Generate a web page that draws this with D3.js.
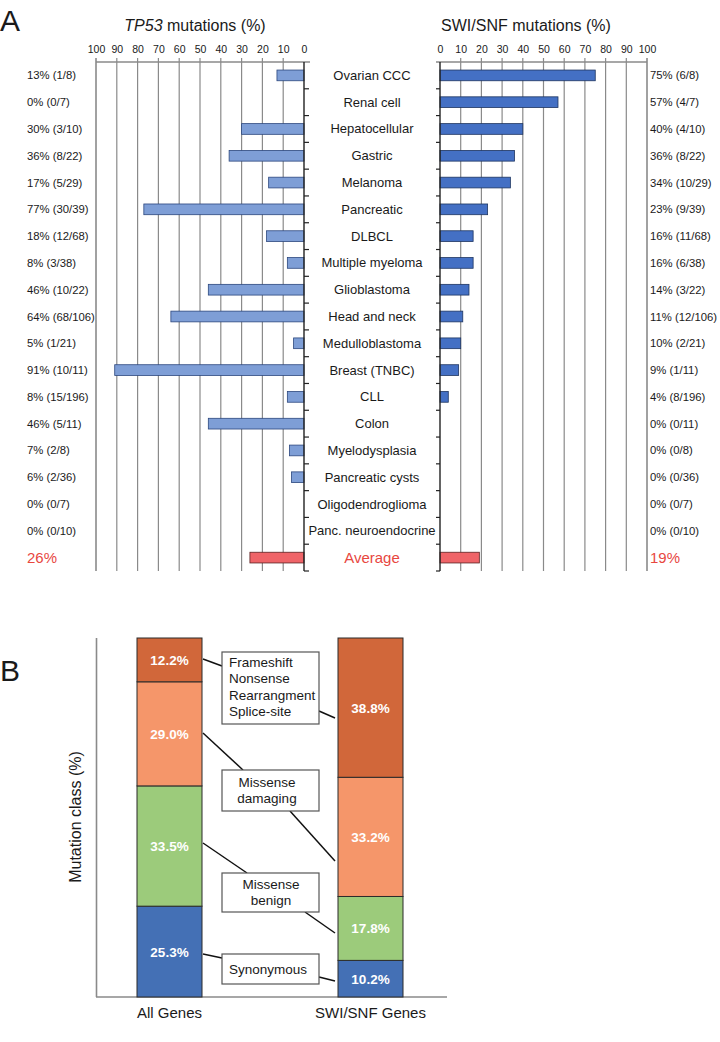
<!DOCTYPE html>
<html>
<head>
<meta charset="utf-8">
<script src="https://cdn.jsdelivr.net/npm/d3@7"></script>
<style>
  html, body { margin: 0; padding: 0; background: #fff; }
  svg { display: block; font-family: "Liberation Sans", Arial, sans-serif; }
</style>
</head>
<body>
<svg id="chart" width="720" height="1042"></svg>
<script>
// ---------- Panel A data ----------
const categories = ["Ovarian CCC","Renal cell","Hepatocellular","Gastric","Melanoma","Pancreatic","DLBCL","Multiple myeloma","Glioblastoma","Head and neck","Medulloblastoma","Breast (TNBC)","CLL","Colon","Myelodysplasia","Pancreatic cysts","Oligodendroglioma","Panc. neuroendocrine"];
const tp53Pct  = [13, 0, 30, 36, 17, 77, 18, 8, 46, 64, 5, 91, 8, 46, 7, 6, 0, 0];
const tp53Frac = ["1/8","0/7","3/10","8/22","5/29","30/39","12/68","3/38","10/22","68/106","1/21","10/11","15/196","5/11","2/8","2/36","0/7","0/10"];
const swiPct   = [75, 57, 40, 36, 34, 23, 16, 16, 14, 11, 10, 9, 4, 0, 0, 0, 0, 0];
const swiFrac  = ["6/8","4/7","4/10","8/22","10/29","9/39","11/68","6/38","3/22","12/106","2/21","1/11","8/196","0/11","0/8","0/36","0/7","0/10"];
const averageLabel = "Average";
const avgTp53 = 26;
const avgSwi = 19;
const axisTicks = [0,10,20,30,40,50,60,70,80,90,100];

// ---------- Panel B data ----------
const geneSets = ["All Genes","SWI/SNF Genes"];
const mutClasses = ["Synonymous","Missense benign","Missense damaging","Frameshift"];
const allGenesVals = [25.3, 33.5, 29.0, 12.2];
const swiGenesVals = [10.2, 17.8, 33.2, 38.8];
const classBoxText = [["Synonymous"],["Missense","benign"],["Missense","damaging"],["Frameshift","Nonsense","Rearrangment","Splice-site"]];

// ---------- styles ----------
const C = {
  text: "#1a1a1a", grid: "#8a8a8a", red: "#e8473f",
  leftFill: "#7e9ed6", leftStroke: "#2c477e",
  rightFill: "#4470c4", rightStroke: "#1e3560",
  avgFill: "#ef6468", avgStroke: "#5b2222",
  classFill: ["#4470b5", "#9ccb7b", "#f5966a", "#d1673a"]
};

const svg = d3.select("#chart");

// ======================= PANEL A =======================
const rows = [...categories, averageLabel];
const y = d3.scaleBand().domain(rows).range([62, 571]);
const xL = d3.scaleLinear().domain([0, 100]).range([304, 96]);
const xR = d3.scaleLinear().domain([0, 100]).range([440, 647]);
const barH = y.bandwidth() * 0.4;
const gA = svg.append("g");

svg.append("text").attr("x", 0).attr("y", 31).attr("font-size", 30).attr("fill", C.text).text("A");

// titles
const t1 = gA.append("text").attr("x", 195).attr("y", 31).attr("text-anchor", "middle")
  .attr("font-size", 16).attr("fill", C.text);
t1.append("tspan").attr("font-style", "italic").text("TP53");
t1.append("tspan").text(" mutations (%)");
gA.append("text").attr("x", 526).attr("y", 31).attr("text-anchor", "middle")
  .attr("font-size", 16).attr("fill", C.text).text("SWI/SNF mutations (%)");

function drawSide(x, side) {
  // grid lines
  gA.append("g").selectAll("line").data(axisTicks.filter(d => d > 0)).join("line")
    .attr("x1", d => x(d)).attr("x2", d => x(d))
    .attr("y1", 58).attr("y2", 571)
    .attr("stroke", C.grid).attr("stroke-width", d => d === 100 ? 1.6 : 1.2);
  // top axis line
  const x0 = x(0), x100 = x(100);
  const ext = side === "left" ? 6 : -4;
  gA.append("line").attr("x1", x100).attr("x2", x0 + ext).attr("y1", 62).attr("y2", 62)
    .attr("stroke", C.grid).attr("stroke-width", 1.6);
  // tick labels via axis
  const ax = d3.axisTop(x).tickValues(axisTicks).tickSize(0).tickPadding(9);
  const ga = gA.append("g").attr("transform", "translate(0,62)").call(ax);
  ga.select(".domain").remove();
  ga.selectAll("text").attr("font-size", 10.5).attr("fill", C.text)
    .attr("font-family", "'Liberation Sans', Arial, sans-serif");
}
drawSide(xL, "left");
drawSide(xR, "right");

// bars
gA.append("g").selectAll("rect").data(categories).join("rect")
  .attr("x", (d, i) => xL(tp53Pct[i])).attr("width", (d, i) => xL(0) - xL(tp53Pct[i]))
  .attr("y", d => y(d) + (y.bandwidth() - barH) / 2).attr("height", barH)
  .attr("fill", C.leftFill).attr("stroke", C.leftStroke).attr("stroke-width", 0.8)
  .attr("display", (d, i) => tp53Pct[i] > 0 ? null : "none");
gA.append("g").selectAll("rect").data(categories).join("rect")
  .attr("x", xR(0)).attr("width", (d, i) => xR(swiPct[i]) - xR(0))
  .attr("y", d => y(d) + (y.bandwidth() - barH) / 2).attr("height", barH)
  .attr("fill", C.rightFill).attr("stroke", C.rightStroke).attr("stroke-width", 0.8)
  .attr("display", (d, i) => swiPct[i] > 0 ? null : "none");
// average bars
gA.append("rect").attr("x", xL(avgTp53)).attr("width", xL(0) - xL(avgTp53))
  .attr("y", y(averageLabel) + (y.bandwidth() - barH) / 2).attr("height", barH)
  .attr("fill", C.avgFill).attr("stroke", C.avgStroke).attr("stroke-width", 0.8);
gA.append("rect").attr("x", xR(0)).attr("width", xR(avgSwi) - xR(0))
  .attr("y", y(averageLabel) + (y.bandwidth() - barH) / 2).attr("height", barH)
  .attr("fill", C.avgFill).attr("stroke", C.avgStroke).attr("stroke-width", 0.8);

// zero axes with category ticks
const axL = d3.axisRight(y).tickSize(0).tickFormat("");
gA.append("line").attr("x1", xL(0)).attr("x2", xL(0)).attr("y1", 62).attr("y2", 571).attr("stroke", "#222").attr("stroke-width", 1.4);
gA.append("line").attr("x1", xR(0)).attr("x2", xR(0)).attr("y1", 62).attr("y2", 571).attr("stroke", "#222").attr("stroke-width", 1.4);
const bounds = rows.map(r => y(r) + y.step());
gA.append("g").selectAll("line").data(bounds).join("line")
  .attr("x1", xL(0)).attr("x2", xL(0) + 5).attr("y1", d => d).attr("y2", d => d)
  .attr("stroke", "#222").attr("stroke-width", 1.2);
gA.append("g").selectAll("line").data(bounds).join("line")
  .attr("x1", xR(0) - 4).attr("x2", xR(0)).attr("y1", d => d).attr("y2", d => d)
  .attr("stroke", "#222").attr("stroke-width", 1.2);

// category labels
gA.append("g").selectAll("text").data(categories).join("text")
  .attr("x", 372).attr("y", d => y(d) + y.bandwidth() / 2 + 4.5)
  .attr("text-anchor", "middle").attr("font-size", 13).attr("fill", C.text).text(d => d);
gA.append("text").attr("x", 372).attr("y", y(averageLabel) + y.bandwidth() / 2 + 5.5)
  .attr("text-anchor", "middle").attr("font-size", 15).attr("fill", C.red).text(averageLabel);

// value labels
gA.append("g").selectAll("text").data(categories).join("text")
  .attr("x", 27).attr("y", d => y(d) + y.bandwidth() / 2 + 4)
  .attr("font-size", 11.3).attr("fill", C.text)
  .text((d, i) => `${tp53Pct[i]}% (${tp53Frac[i]})`);
gA.append("g").selectAll("text").data(categories).join("text")
  .attr("x", 650).attr("y", d => y(d) + y.bandwidth() / 2 + 4)
  .attr("font-size", 11.3).attr("fill", C.text)
  .text((d, i) => `${swiPct[i]}% (${swiFrac[i]})`);
gA.append("text").attr("x", 27).attr("y", y(averageLabel) + y.bandwidth() / 2 + 5.5)
  .attr("font-size", 15).attr("fill", C.red).text(`${avgTp53}%`);
gA.append("text").attr("x", 650).attr("y", y(averageLabel) + y.bandwidth() / 2 + 5.5)
  .attr("font-size", 15).attr("fill", C.red).text(`${avgSwi}%`);

// ======================= PANEL B =======================
const gB = svg.append("g");
svg.append("text").attr("x", 0).attr("y", 681).attr("font-size", 30).attr("fill", C.text).text("B");

const yB = d3.scaleLinear().domain([0, 100]).range([997, 638]);
const xB = d3.scalePoint().domain(geneSets).range([169.5, 370.5]);
const bw = 65;

// frame axes
gB.append("line").attr("x1", 96.5).attr("x2", 96.5).attr("y1", 638).attr("y2", 997).attr("stroke", C.grid).attr("stroke-width", 1.6);
gB.append("line").attr("x1", 96).attr("x2", 447).attr("y1", 997).attr("y2", 997).attr("stroke", C.grid).attr("stroke-width", 1.6);

const seriesVals = [allGenesVals, swiGenesVals];
const stackData = mutClasses.map((c, i) => {
  const o = { cls: c };
  geneSets.forEach((g, j) => o[g] = seriesVals[j][i]);
  return o;
});
const rowsForStack = geneSets.map((g, j) => {
  const o = { set: g };
  mutClasses.forEach((c, i) => o[c] = seriesVals[j][i]);
  return o;
});
const stacked = d3.stack().keys(mutClasses)(rowsForStack);

stacked.forEach((layer, li) => {
  const g = gB.append("g");
  g.selectAll("rect").data(layer).join("rect")
    .attr("x", d => xB(d.data.set) - bw / 2).attr("width", bw)
    .attr("y", d => yB(d[1])).attr("height", d => yB(d[0]) - yB(d[1]))
    .attr("fill", C.classFill[li]).attr("stroke", "#2a2a2a").attr("stroke-width", 1);
  g.selectAll("text").data(layer).join("text")
    .attr("x", d => xB(d.data.set)).attr("y", d => yB((d[0] + d[1]) / 2) + 5)
    .attr("text-anchor", "middle").attr("font-size", 13.5).attr("font-weight", "bold")
    .attr("fill", "#fff").text(d => (d[1] - d[0]).toFixed(1) + "%");
});

// annotation boxes (layout)
const boxLayout = [
  { x: 222, y: 954, w: 97, h: 30, anchor: "middle", tx: 268, ty: 974 },
  { x: 222, y: 873, w: 97, h: 39, anchor: "middle", tx: 271, ty: 889 },
  { x: 222, y: 770, w: 97, h: 41, anchor: "middle", tx: 267, ty: 787 },
  { x: 222, y: 652, w: 97, h: 72, anchor: "start", tx: 229, ty: 667 }
];
const leaderLayout = [
  [[203, 954, 222, 958], [319, 977, 335, 981]],
  [[203, 843, 247, 873], [305, 912, 335, 933]],
  [[203, 733, 243, 770], [290, 811, 335, 861]],
  [[203, 659, 222, 666], [319, 711, 335, 718]]
];
leaderLayout.forEach(ls => ls.forEach(l => {
  gB.append("line").attr("x1", l[0]).attr("y1", l[1]).attr("x2", l[2]).attr("y2", l[3])
    .attr("stroke", "#111").attr("stroke-width", 1.5);
}));
boxLayout.forEach((b, i) => {
  gB.append("rect").attr("x", b.x).attr("y", b.y).attr("width", b.w).attr("height", b.h)
    .attr("fill", "#fff").attr("stroke", "#555").attr("stroke-width", 1.2);
  const t = gB.append("text").attr("font-size", 13.5).attr("fill", C.text).attr("text-anchor", b.anchor);
  classBoxText[i].forEach((line, k) => {
    t.append("tspan").attr("x", b.tx).attr("y", b.ty + k * 16.3).text(line);
  });
});

// axis labels
gB.append("text").attr("transform", "translate(81,817) rotate(-90)").attr("text-anchor", "middle")
  .attr("font-size", 16).attr("fill", C.text).text("Mutation class (%)");
gB.append("g").selectAll("text").data(geneSets).join("text")
  .attr("x", d => xB(d)).attr("y", 1018).attr("text-anchor", "middle")
  .attr("font-size", 15).attr("fill", C.text).text(d => d);
</script>
</body>
</html>
